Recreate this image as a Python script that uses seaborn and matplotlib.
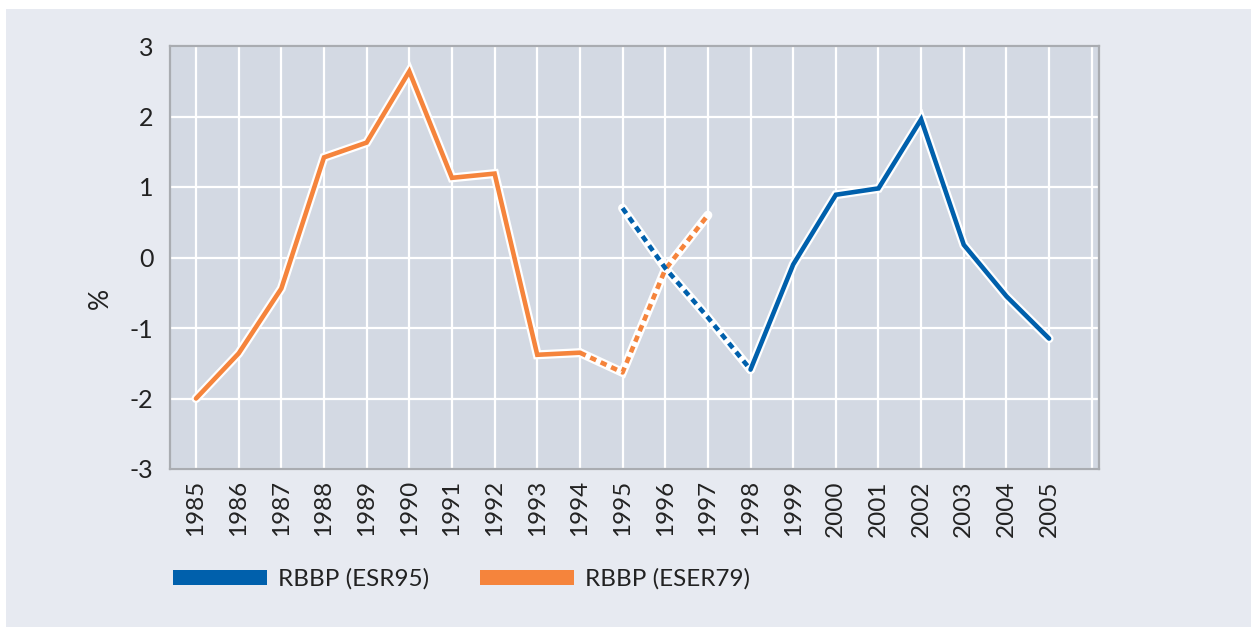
import numpy as np
import pandas as pd
import seaborn as sns
import matplotlib.pyplot as plt
from matplotlib.patches import Patch, Rectangle

years = list(range(1985, 2006))
eser79 = [-2.0, -1.36, -0.44, 1.42, 1.63, 2.64, 1.13, 1.19, -1.38, -1.35, -1.63, -0.17, 0.60,
          None, None, None, None, None, None, None, None]
esr95 = [None, None, None, None, None, None, None, None, None, None, 0.70, -0.15, -0.85,
         -1.59, -0.10, 0.89, 0.98, 1.96, 0.18, -0.55, -1.15]

# which years are drawn solid / dashed for each series
eser79_solid = (1985, 1994)
eser79_dash = (1994, 1997)
esr95_dash = (1995, 1998)
esr95_solid = (1998, 2005)

BLUE = "#0060ac"
ORANGE = "#f5843c"
FIG_BG = "#e7eaf1"
AX_BG = "#d3d9e3"
TXT = "#222222"

sns.set_theme(style="white")
plt.rcParams['font.family'] = ['Lato', 'DejaVu Sans']

df = pd.DataFrame({"year": years, "ESER79": eser79, "ESR95": esr95})

fig = plt.figure(figsize=(12.51, 6.27), dpi=100, facecolor="white")
fig.patches.append(Rectangle((6 / 1251, 0), 1 - 6 / 1251, 1 - 9 / 627,
                             transform=fig.transFigure, facecolor=FIG_BG,
                             edgecolor="none", zorder=-10))
ax = fig.add_axes([170 / 1251, 1 - 469 / 627, 929 / 1251, 423 / 627])
ax.set_facecolor(AX_BG)


def segment(col, rng, color, dashed):
    sub = df[(df.year >= rng[0]) & (df.year <= rng[1])]
    sns.lineplot(data=sub, x="year", y=col, ax=ax, color="white", lw=6.5,
                 solid_joinstyle="miter", zorder=3)
    kw = dict(linestyle=(0, (1.4, 1.1))) if dashed else {}
    sns.lineplot(data=sub, x="year", y=col, ax=ax, color=color, lw=3.3,
                 solid_joinstyle="miter", zorder=4, **kw)


segment("ESER79", eser79_solid, ORANGE, False)
segment("ESER79", eser79_dash, ORANGE, True)
segment("ESR95", esr95_dash, BLUE, True)
segment("ESR95", esr95_solid, BLUE, False)

ax.set_xlim(1984.39, 2006.17)
ax.set_ylim(-3, 3)
ax.set_xticks(list(range(1985, 2007)))
ax.set_xticklabels([str(y) for y in years] + [""], rotation=90, fontsize=17.5, color=TXT)
ax.set_yticks(range(-3, 4))
ax.set_yticklabels([str(v) for v in range(-3, 4)], fontsize=18, color=TXT)
ax.tick_params(axis="x", length=0, pad=8)
ax.tick_params(axis="y", direction="in", length=16, width=1.6, color=TXT, pad=12)
ax.grid(True, color="white", lw=1.6)
ax.set_axisbelow(True)
for s in ax.spines.values():
    s.set_color("#a9acb1")
    s.set_linewidth(1.6)
    s.set_zorder(5)

ax.set_xlabel("")
ax.set_ylabel("%", fontsize=19, color=TXT)
ax.yaxis.set_label_coords(-0.062, 0.404)

handles = [Patch(facecolor=BLUE, edgecolor="none", label="RBBP (ESR95)"),
           Patch(facecolor=ORANGE, edgecolor="none", label="RBBP (ESER79)")]
fig.legend(handles=handles, loc="center left", bbox_to_anchor=(173 / 1251, 1 - 579 / 627),
           ncol=2, frameon=False, fontsize=17.5, handlelength=3.87, handleheight=0.58,
           handletextpad=0.45, columnspacing=2.1, borderpad=0, borderaxespad=0,
           labelcolor=TXT)

fig.savefig("out.png", dpi=100, facecolor=fig.get_facecolor())
